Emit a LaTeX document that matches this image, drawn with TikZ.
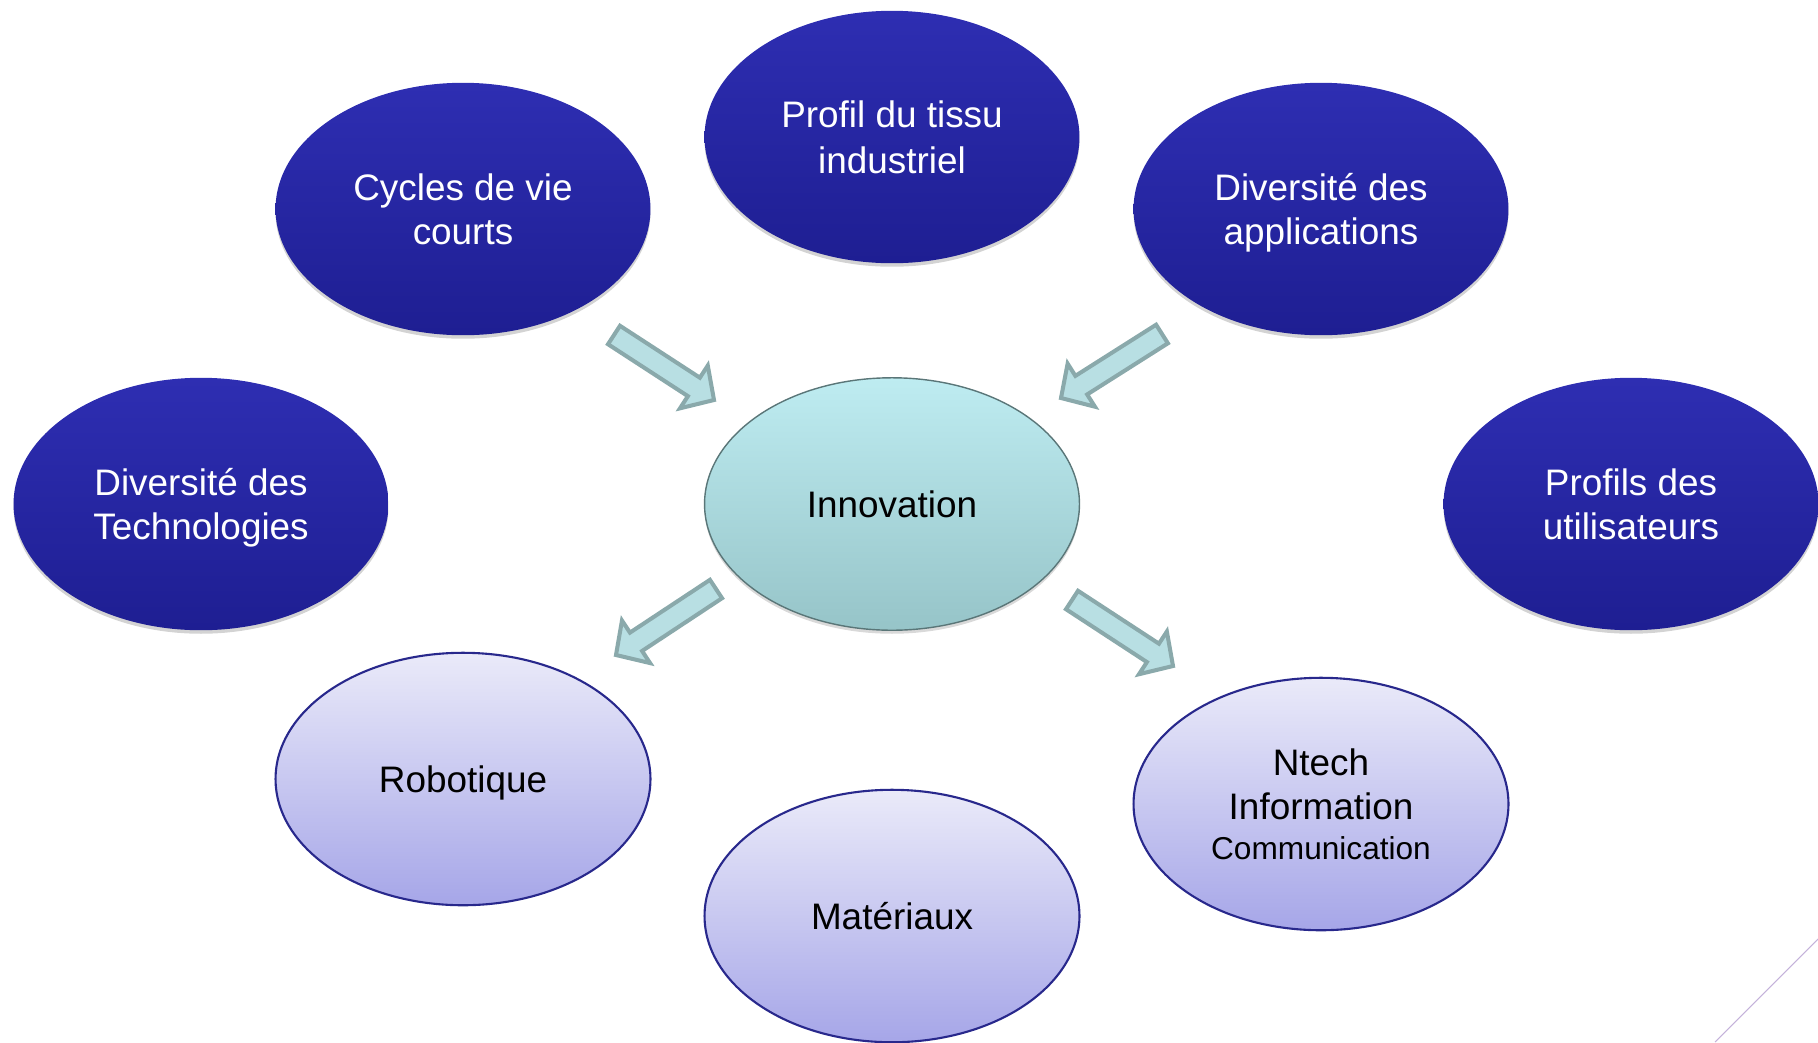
\documentclass[tikz,border=0pt]{standalone}
\usepackage{fontspec}
\setmainfont{Liberation Sans}
\usetikzlibrary{shapes.geometric, calc, shadows}

\definecolor{darkblueA}{RGB}{46,46,178}
\definecolor{darkblueB}{RGB}{30,30,146}
\definecolor{tealA}{RGB}{190,236,241}
\definecolor{tealB}{RGB}{150,196,200}
\definecolor{lilacA}{RGB}{234,234,249}
\definecolor{lilacB}{RGB}{166,166,232}
\definecolor{lilacline}{RGB}{40,40,140}
\definecolor{arrowfill}{RGB}{184,223,227}
\definecolor{arrowline}{RGB}{138,169,171}
\definecolor{cornerline}{RGB}{196,178,218}

\tikzset{
  bubble/.style={ellipse, minimum width=7.5cm, minimum height=5.05cm, inner sep=0pt,
    align=center, font=\fontsize{21}{25}\selectfont, text depth=0pt},
  factor/.style={bubble, top color=darkblueA, bottom color=darkblueB, text=white,
    drop shadow={opacity=0.35, shadow xshift=0pt, shadow yshift=-2pt}},
  core/.style={bubble, top color=tealA, bottom color=tealB, draw=tealB!60!black, line width=0.8pt,
    drop shadow={opacity=0.3, shadow xshift=0pt, shadow yshift=-2pt}},
  field/.style={bubble, top color=lilacA, bottom color=lilacB, draw=lilacline, line width=1.2pt},
  fatarrow/.style={fill=arrowfill, draw=arrowline, line width=2.3pt, line join=miter}
}

% block arrow from #1 to #2
\newcommand{\fatarrow}[2]{%
  \coordinate (fa-base) at ($(#2)!0.48cm!(#1)$);
  \draw[fatarrow] ($(#1)!0.22cm!90:(#2)$) -- ($(fa-base)!0.22cm!90:(#2)$)
    -- ($(fa-base)!0.51cm!90:(#2)$) -- (#2) -- ($(fa-base)!0.51cm!-90:(#2)$)
    -- ($(fa-base)!0.22cm!-90:(#2)$) -- ($(#1)!0.22cm!-90:(#2)$) -- cycle;}

\begin{document}
\begin{tikzpicture}[x=0.02cm, y=-0.02cm]
  \useasboundingbox (0,0) rectangle (1818,1042);

  % outer factors
  \node[factor] (cycles) at (463,209) {Cycles de vie\\courts};
  \node[factor] (tissu) at (892,137) {Profil du tissu\\[1pt]industriel};
  \node[factor] (applis) at (1321,209) {Diversité des\\applications};
  \node[factor] (techno) at (201,504) {Diversité des\\Technologies};
  \node[factor] (users) at (1631,504) {Profils des\\utilisateurs};

  % centre
  \node[core] (innov) at (892,504) {Innovation};

  % fields
  \node[field] (robot) at (463,779) {Robotique};
  \node[field] (mater) at (892,916) {Matériaux};
  \node[field] (ntech) at (1321,804) {Ntech\\Information\\[-2pt]{\fontsize{18}{22}\selectfont Communication}};

  % arrows
  \coordinate (cycles-out) at (614,335);
  \coordinate (innov-in1) at (714,400);
  \coordinate (applis-out) at (1162,334);
  \coordinate (innov-in2) at (1061,398);
  \coordinate (innov-out1) at (716,589);
  \coordinate (robot-in) at (616,655);
  \coordinate (innov-out2) at (1072,600);
  \coordinate (ntech-in) at (1173,666);
  \fatarrow{cycles-out}{innov-in1}
  \fatarrow{applis-out}{innov-in2}
  \fatarrow{innov-out1}{robot-in}
  \fatarrow{innov-out2}{ntech-in}

  % corner stroke
  \coordinate (corner-a) at (1715,1042);
  \coordinate (corner-b) at (1818,939);
  \draw[cornerline, line width=0.6pt] (corner-a) -- (corner-b);
\end{tikzpicture}
\end{document}
